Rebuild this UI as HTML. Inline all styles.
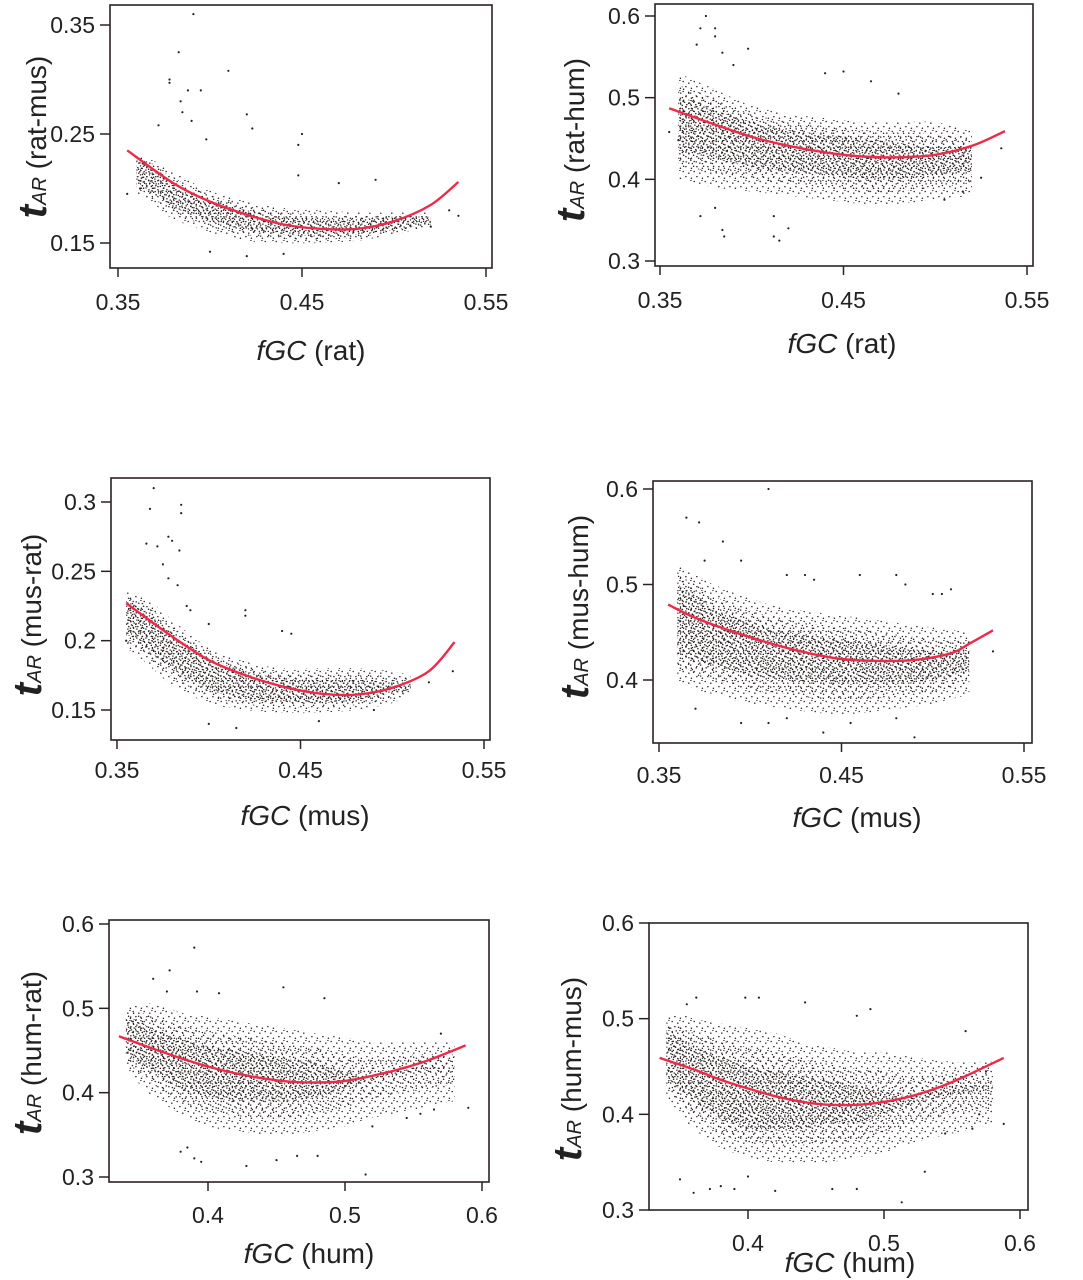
<!DOCTYPE html>
<html><head><meta charset="utf-8"><title>tAR vs fGC scatter panels</title>
<style>
html,body{margin:0;padding:0;background:#fff;}
svg{display:block;font-family:"Liberation Sans",sans-serif;}
</style></head>
<body>
<svg id="fig" width="1083" height="1280" viewBox="0 0 1083 1280">
<defs>
<pattern id="sparse" width="11" height="10" patternUnits="userSpaceOnUse">
<circle cx="1.2" cy="1.5" r="0.75" fill="#2a1f1f"/><circle cx="6.8" cy="3.1" r="0.75" fill="#2a1f1f"/>
<circle cx="3.9" cy="6.6" r="0.75" fill="#2a1f1f"/><circle cx="9.4" cy="8.2" r="0.75" fill="#2a1f1f"/>
<circle cx="8.9" cy="0.4" r="0.7" fill="#2a1f1f"/>
</pattern>
<pattern id="mid" width="10" height="11" patternUnits="userSpaceOnUse">
<circle cx="3.6" cy="1.2" r="0.75" fill="#2a1f1f"/><circle cx="0.7" cy="5.1" r="0.75" fill="#2a1f1f"/>
<circle cx="6.2" cy="7.9" r="0.75" fill="#2a1f1f"/><circle cx="8.6" cy="4.3" r="0.75" fill="#2a1f1f"/>
<circle cx="2.4" cy="9.6" r="0.7" fill="#2a1f1f"/>
</pattern>
<pattern id="dense" width="9" height="9" patternUnits="userSpaceOnUse">
<circle cx="0.6" cy="3.2" r="0.75" fill="#241a1a"/><circle cx="4.9" cy="0.8" r="0.75" fill="#241a1a"/>
<circle cx="2.8" cy="5.6" r="0.75" fill="#241a1a"/><circle cx="7.3" cy="6.4" r="0.75" fill="#241a1a"/>
<circle cx="5.5" cy="3.9" r="0.7" fill="#241a1a"/><circle cx="1.9" cy="8.1" r="0.7" fill="#241a1a"/>
<circle cx="8.2" cy="2.1" r="0.7" fill="#241a1a"/>
</pattern>
</defs>
</svg>
<script>
// ---- Panel 1: rat-mus vs fGC(rat)
const p1CurveX=[0.355,0.38,0.40,0.42,0.44,0.46,0.48,0.50,0.52,0.535];
const p1CurveY=[0.235,0.205,0.188,0.176,0.167,0.163,0.163,0.170,0.185,0.206];
const p1BandX=[0.36,0.37,0.38,0.40,0.42,0.44,0.46,0.48,0.50,0.52];
const p1OuterLo=[0.195,0.185,0.172,0.160,0.152,0.150,0.150,0.152,0.158,0.165];
const p1OuterHi=[0.232,0.225,0.215,0.198,0.188,0.182,0.180,0.178,0.178,0.178];
const p1InnerLo=[0.205,0.195,0.183,0.170,0.162,0.158,0.156,0.158,0.162,0.168];
const p1InnerHi=[0.228,0.218,0.205,0.190,0.180,0.174,0.172,0.172,0.174,0.174];
const p1OutX=[0.355,0.362,0.372,0.378,0.378,0.383,0.384,0.385,0.388,0.39,0.391,0.395,0.398,0.41,0.42,0.423,0.448,0.45,0.448,0.47,0.49,0.53,0.535,0.52,0.44,0.42,0.40];
const p1OutY=[0.195,0.200,0.258,0.297,0.300,0.325,0.280,0.270,0.290,0.262,0.360,0.290,0.245,0.308,0.268,0.255,0.240,0.250,0.212,0.205,0.208,0.180,0.175,0.165,0.140,0.138,0.142];
const p1XTicks=[0.35,0.45,0.55], p1XLabels=['0.35','0.45','0.55'];
const p1YTicks=[0.15,0.25,0.35], p1YLabels=['0.15','0.25','0.35'];
// ---- Panel 2: rat-hum vs fGC(rat)
const p2CurveX=[0.355,0.38,0.40,0.42,0.44,0.46,0.48,0.50,0.52,0.538];
const p2CurveY=[0.487,0.467,0.452,0.441,0.433,0.428,0.427,0.430,0.441,0.459];
const p2BandX=[0.36,0.37,0.38,0.40,0.42,0.44,0.46,0.48,0.50,0.52];
const p2OuterLo=[0.40,0.395,0.39,0.385,0.38,0.375,0.37,0.37,0.375,0.38];
const p2OuterHi=[0.53,0.52,0.51,0.49,0.48,0.475,0.47,0.47,0.47,0.46];
const p2InnerLo=[0.43,0.43,0.425,0.415,0.41,0.405,0.40,0.40,0.405,0.41];
const p2InnerHi=[0.50,0.495,0.485,0.47,0.46,0.455,0.45,0.445,0.44,0.44];
const p2OutX=[0.355,0.36,0.372,0.37,0.375,0.38,0.38,0.384,0.39,0.398,0.372,0.38,0.384,0.385,0.412,0.412,0.415,0.42,0.44,0.45,0.465,0.48,0.525,0.536,0.515,0.505];
const p2OutY=[0.458,0.448,0.585,0.565,0.600,0.575,0.585,0.555,0.540,0.560,0.355,0.365,0.338,0.330,0.355,0.330,0.325,0.340,0.530,0.532,0.520,0.505,0.402,0.438,0.385,0.375];
const p2XTicks=[0.35,0.45,0.55], p2XLabels=['0.35','0.45','0.55'];
const p2YTicks=[0.3,0.4,0.5,0.6], p2YLabels=['0.3','0.4','0.5','0.6'];
// ---- Panel 3: mus-rat vs fGC(mus)
const p3CurveX=[0.355,0.38,0.40,0.42,0.44,0.46,0.48,0.50,0.52,0.534];
const p3CurveY=[0.227,0.203,0.186,0.175,0.167,0.162,0.161,0.166,0.178,0.199];
const p3BandX=[0.355,0.365,0.38,0.40,0.42,0.44,0.46,0.48,0.50,0.51];
const p3OuterLo=[0.195,0.185,0.168,0.155,0.150,0.148,0.148,0.150,0.155,0.162];
const p3OuterHi=[0.235,0.232,0.215,0.195,0.185,0.180,0.180,0.180,0.178,0.175];
const p3InnerLo=[0.205,0.195,0.180,0.165,0.158,0.156,0.155,0.157,0.162,0.165];
const p3InnerHi=[0.228,0.222,0.205,0.188,0.178,0.173,0.172,0.172,0.170,0.170];
const p3OutX=[0.368,0.37,0.385,0.385,0.366,0.372,0.378,0.38,0.384,0.375,0.378,0.383,0.39,0.42,0.42,0.44,0.445,0.388,0.40,0.533,0.52,0.49,0.46,0.40,0.415,0.355];
const p3OutY=[0.295,0.310,0.298,0.292,0.270,0.268,0.275,0.272,0.265,0.255,0.245,0.240,0.222,0.222,0.218,0.207,0.205,0.225,0.212,0.178,0.170,0.150,0.142,0.140,0.137,0.200];
const p3XTicks=[0.35,0.45,0.55], p3XLabels=['0.35','0.45','0.55'];
const p3YTicks=[0.15,0.2,0.25,0.3], p3YLabels=['0.15','0.2','0.25','0.3'];
// ---- Panel 4: mus-hum vs fGC(mus)
const p4CurveX=[0.355,0.37,0.39,0.41,0.43,0.45,0.47,0.49,0.51,0.52,0.533];
const p4CurveY=[0.479,0.465,0.451,0.439,0.429,0.422,0.420,0.421,0.428,0.438,0.452];
const p4BandX=[0.36,0.37,0.38,0.40,0.42,0.44,0.46,0.48,0.50,0.52];
const p4OuterLo=[0.40,0.39,0.385,0.375,0.37,0.365,0.365,0.37,0.375,0.385];
const p4OuterHi=[0.52,0.51,0.50,0.485,0.475,0.47,0.465,0.46,0.455,0.45];
const p4InnerLo=[0.425,0.42,0.415,0.405,0.40,0.395,0.395,0.395,0.40,0.41];
const p4InnerHi=[0.50,0.49,0.475,0.46,0.45,0.445,0.44,0.435,0.43,0.43];
const p4OutX=[0.365,0.372,0.375,0.385,0.395,0.41,0.42,0.43,0.435,0.46,0.48,0.485,0.50,0.505,0.51,0.533,0.37,0.395,0.41,0.42,0.455,0.44,0.49,0.48];
const p4OutY=[0.570,0.565,0.525,0.545,0.525,0.600,0.510,0.510,0.505,0.510,0.510,0.500,0.490,0.490,0.495,0.430,0.370,0.355,0.355,0.360,0.355,0.345,0.340,0.360];
const p4XTicks=[0.35,0.45,0.55], p4XLabels=['0.35','0.45','0.55'];
const p4YTicks=[0.4,0.5,0.6], p4YLabels=['0.4','0.5','0.6'];
// ---- Panel 5: hum-rat vs fGC(hum)
const p5CurveX=[0.335,0.36,0.38,0.40,0.42,0.44,0.46,0.48,0.50,0.52,0.54,0.56,0.588];
const p5CurveY=[0.467,0.452,0.441,0.431,0.423,0.417,0.413,0.412,0.414,0.420,0.428,0.438,0.456];
const p5BandX=[0.34,0.35,0.36,0.38,0.40,0.42,0.44,0.46,0.48,0.50,0.52,0.55,0.58];
const p5OuterLo=[0.43,0.41,0.395,0.375,0.36,0.355,0.35,0.35,0.355,0.36,0.37,0.38,0.39];
const p5OuterHi=[0.50,0.505,0.505,0.495,0.49,0.485,0.48,0.475,0.47,0.465,0.46,0.46,0.46];
const p5InnerLo=[0.445,0.435,0.425,0.405,0.395,0.39,0.39,0.39,0.395,0.405,0.415,0.425,0.43];
const p5InnerHi=[0.49,0.485,0.475,0.465,0.455,0.45,0.445,0.44,0.435,0.425,0.42,0.43,0.43];
const p5OutX=[0.39,0.372,0.36,0.455,0.485,0.37,0.392,0.408,0.38,0.39,0.395,0.385,0.428,0.45,0.465,0.48,0.515,0.57,0.59,0.565,0.555,0.545,0.52];
const p5OutY=[0.572,0.545,0.535,0.525,0.512,0.520,0.520,0.518,0.330,0.322,0.318,0.335,0.313,0.320,0.325,0.325,0.303,0.470,0.382,0.380,0.375,0.370,0.360];
const p5XTicks=[0.4,0.5,0.6], p5XLabels=['0.4','0.5','0.6'];
const p5YTicks=[0.3,0.4,0.5,0.6], p5YLabels=['0.3','0.4','0.5','0.6'];
// ---- Panel 6: hum-mus vs fGC(hum)
const p6CurveX=[0.335,0.36,0.38,0.40,0.42,0.44,0.46,0.48,0.50,0.52,0.54,0.56,0.588];
const p6CurveY=[0.459,0.447,0.436,0.427,0.419,0.413,0.410,0.410,0.413,0.419,0.428,0.440,0.459];
const p6BandX=[0.34,0.35,0.36,0.38,0.40,0.42,0.44,0.46,0.48,0.50,0.52,0.55,0.58];
const p6OuterLo=[0.42,0.40,0.385,0.365,0.355,0.35,0.35,0.35,0.355,0.36,0.37,0.38,0.39];
const p6OuterHi=[0.50,0.505,0.50,0.495,0.49,0.485,0.475,0.47,0.465,0.465,0.46,0.455,0.455];
const p6InnerLo=[0.44,0.425,0.415,0.395,0.385,0.385,0.385,0.39,0.39,0.40,0.41,0.42,0.425];
const p6InnerHi=[0.485,0.48,0.47,0.46,0.45,0.445,0.44,0.435,0.43,0.425,0.42,0.43,0.43];
const p6OutX=[0.362,0.398,0.408,0.442,0.49,0.48,0.355,0.36,0.372,0.35,0.38,0.40,0.42,0.39,0.462,0.48,0.513,0.53,0.56,0.575,0.588,0.57,0.565,0.545];
const p6OutY=[0.522,0.522,0.522,0.517,0.510,0.503,0.515,0.318,0.322,0.332,0.325,0.335,0.320,0.322,0.322,0.322,0.308,0.340,0.487,0.445,0.390,0.400,0.385,0.380];
const p6XTicks=[0.4,0.5,0.6], p6XLabels=['0.4','0.5','0.6'];
const p6YTicks=[0.3,0.4,0.5,0.6], p6YLabels=['0.3','0.4','0.5','0.6'];

const NS='http://www.w3.org/2000/svg';
const svg=document.getElementById('fig');
function mk(tag,attrs,parent){const e=document.createElementNS(NS,tag);for(const k in attrs)e.setAttribute(k,attrs[k]);(parent||svg).appendChild(e);return e;}

function smoothPath(pts){
  // Catmull-Rom to cubic bezier
  let d='M'+pts[0][0].toFixed(1)+' '+pts[0][1].toFixed(1);
  for(let i=0;i<pts.length-1;i++){
    const p0=pts[Math.max(0,i-1)],p1=pts[i],p2=pts[i+1],p3=pts[Math.min(pts.length-1,i+2)];
    const c1=[p1[0]+(p2[0]-p0[0])/6,p1[1]+(p2[1]-p0[1])/6];
    const c2=[p2[0]-(p3[0]-p1[0])/6,p2[1]-(p3[1]-p1[1])/6];
    d+=' C'+c1[0].toFixed(1)+' '+c1[1].toFixed(1)+' '+c2[0].toFixed(1)+' '+c2[1].toFixed(1)+' '+p2[0].toFixed(1)+' '+p2[1].toFixed(1);
  }
  return d;
}

const panels=[
 {id:'rat-mus',xt:'rat',box:[110,5,492,268],xr:[0.35,118,0.55,486],yr:[0.35,25,0.15,243],xlabY:310,titleX:311,titleY:360,ylx:35,yly:137,
  cx:p1CurveX,cy:p1CurveY,bx:p1BandX,ol:p1OuterLo,oh:p1OuterHi,il:p1InnerLo,ih:p1InnerHi,ox:p1OutX,oy:p1OutY,xtk:p1XTicks,xlb:p1XLabels,ytk:p1YTicks,ylb:p1YLabels},
 {id:'rat-hum',xt:'rat',box:[655,4,1033,266],xr:[0.35,660,0.55,1027],yr:[0.6,16,0.3,261],xlabY:308,titleX:842,titleY:353,ylx:573,yly:140,
  cx:p2CurveX,cy:p2CurveY,bx:p2BandX,ol:p2OuterLo,oh:p2OuterHi,il:p2InnerLo,ih:p2InnerHi,ox:p2OutX,oy:p2OutY,xtk:p2XTicks,xlb:p2XLabels,ytk:p2YTicks,ylb:p2YLabels},
 {id:'mus-rat',xt:'mus',box:[111,478,490,740],xr:[0.35,117,0.55,484],yr:[0.3,502,0.15,710],xlabY:778,titleX:305,titleY:825,ylx:30,yly:615,
  cx:p3CurveX,cy:p3CurveY,bx:p3BandX,ol:p3OuterLo,oh:p3OuterHi,il:p3InnerLo,ih:p3InnerHi,ox:p3OutX,oy:p3OutY,xtk:p3XTicks,xlb:p3XLabels,ytk:p3YTicks,ylb:p3YLabels},
 {id:'mus-hum',xt:'mus',box:[653,481,1032,743],xr:[0.35,659,0.55,1024],yr:[0.6,489,0.4,680],xlabY:783,titleX:857,titleY:827,ylx:577,yly:607,
  cx:p4CurveX,cy:p4CurveY,bx:p4BandX,ol:p4OuterLo,oh:p4OuterHi,il:p4InnerLo,ih:p4InnerHi,ox:p4OutX,oy:p4OutY,xtk:p4XTicks,xlb:p4XLabels,ytk:p4YTicks,ylb:p4YLabels},
 {id:'hum-rat',xt:'hum',box:[109,920,489,1182],xr:[0.4,208,0.6,482],yr:[0.6,924,0.3,1177],xlabY:1223,titleX:309,titleY:1263,ylx:30,yly:1053,
  cx:p5CurveX,cy:p5CurveY,bx:p5BandX,ol:p5OuterLo,oh:p5OuterHi,il:p5InnerLo,ih:p5InnerHi,ox:p5OutX,oy:p5OutY,xtk:p5XTicks,xlb:p5XLabels,ytk:p5YTicks,ylb:p5YLabels},
 {id:'hum-mus',xt:'hum',box:[649,923,1028,1210],xr:[0.4,748,0.6,1020],yr:[0.6,923,0.3,1210],xlabY:1251,titleX:850,titleY:1272,ylx:570,yly:1069,
  cx:p6CurveX,cy:p6CurveY,bx:p6BandX,ol:p6OuterLo,oh:p6OuterHi,il:p6InnerLo,ih:p6InnerHi,ox:p6OutX,oy:p6OutY,xtk:p6XTicks,xlb:p6XLabels,ytk:p6YTicks,ylb:p6YLabels}
];

panels.forEach(p=>{
  const g=mk('g',{});
  
  
  const sx=v=>p.xr[1]+(v-p.xr[0])*(p.xr[3]-p.xr[1])/(p.xr[2]-p.xr[0]);
  const sy=v=>p.yr[1]+(v-p.yr[0])*(p.yr[3]-p.yr[1])/(p.yr[2]-p.yr[0]);
  const [L,T,R,B]=p.box;
  function band(lo,hi,fill,name){
    const top=p.bx.map((x,i)=>[sx(x),sy(hi[i])]);
    const bot=p.bx.map((x,i)=>[sx(x),sy(lo[i])]).reverse();
    let d=smoothPath(top)+' L'+smoothPath(bot).slice(1)+' Z';
    const e=mk('path',{d:d,fill:fill},g);
    
    
  }
  const midLo=p.ol.map((v,i)=>(v+p.il[i])/2), midHi=p.oh.map((v,i)=>(v+p.ih[i])/2);
  band(p.ol,p.oh,'url(#sparse)','scatter-cloud-outer');
  band(midLo,midHi,'url(#mid)','scatter-cloud-middle');
  band(p.il,p.ih,'url(#dense)','scatter-cloud-core');
  p.ox.forEach((x,i)=>{
    const c=mk('circle',{cx:sx(x).toFixed(1),cy:sy(p.oy[i]).toFixed(1),r:1.1,fill:'#2a1f1f'},g);
    
    
  });
  const cv=mk('path',{d:smoothPath(p.cx.map((x,i)=>[sx(x),sy(p.cy[i])])),fill:'none',stroke:'#ee2a4a','stroke-width':2.4,'stroke-linejoin':'round'},g);
  
  
  const fr=mk('rect',{x:L,y:T,width:R-L,height:B-T,fill:'none',stroke:'#2a2222','stroke-width':1.6},g);
  
  
  p.xtk.forEach((v,i)=>{
    const X=sx(v);
    const t=mk('line',{x1:X,y1:B,x2:X,y2:B+9,stroke:'#2a2222','stroke-width':1.5},g);
    
    
    const lb=mk('text',{x:X,y:p.xlabY,'text-anchor':'middle','font-size':23,fill:'#222'},g);
    lb.textContent=p.xlb[i];
    
    
  });
  p.ytk.forEach((v,i)=>{
    const Y=sy(v);
    const t=mk('line',{x1:L-10,y1:Y,x2:L,y2:Y,stroke:'#2a2222','stroke-width':1.5},g);
    
    
    const lb=mk('text',{x:L-15,y:Y+8,'text-anchor':'end','font-size':23,fill:'#222'},g);
    lb.textContent=p.ylb[i];
    
    
  });
  const xt=mk('text',{x:p.titleX,y:p.titleY,'text-anchor':'middle','font-size':28,fill:'#222'},g);
  
  
  const a=mk('tspan',{'font-style':'italic'},xt);a.textContent='fGC';
  const b=mk('tspan',{},xt);b.textContent=' ('+p.xt+')';
  const yt=mk('text',{x:0,y:0,'text-anchor':'middle',fill:'#222',transform:'translate('+(p.ylx+11)+','+p.yly+') rotate(-90)'},g);
  
  
  const t1=mk('tspan',{'font-style':'italic','font-weight':'bold','font-size':40},yt);t1.textContent='t';
  const t2=mk('tspan',{'font-style':'italic','font-size':20},yt);t2.textContent='AR';
  const t3=mk('tspan',{'font-size':28},yt);t3.textContent=' ('+p.id+')';
});
</script>
</body></html>
